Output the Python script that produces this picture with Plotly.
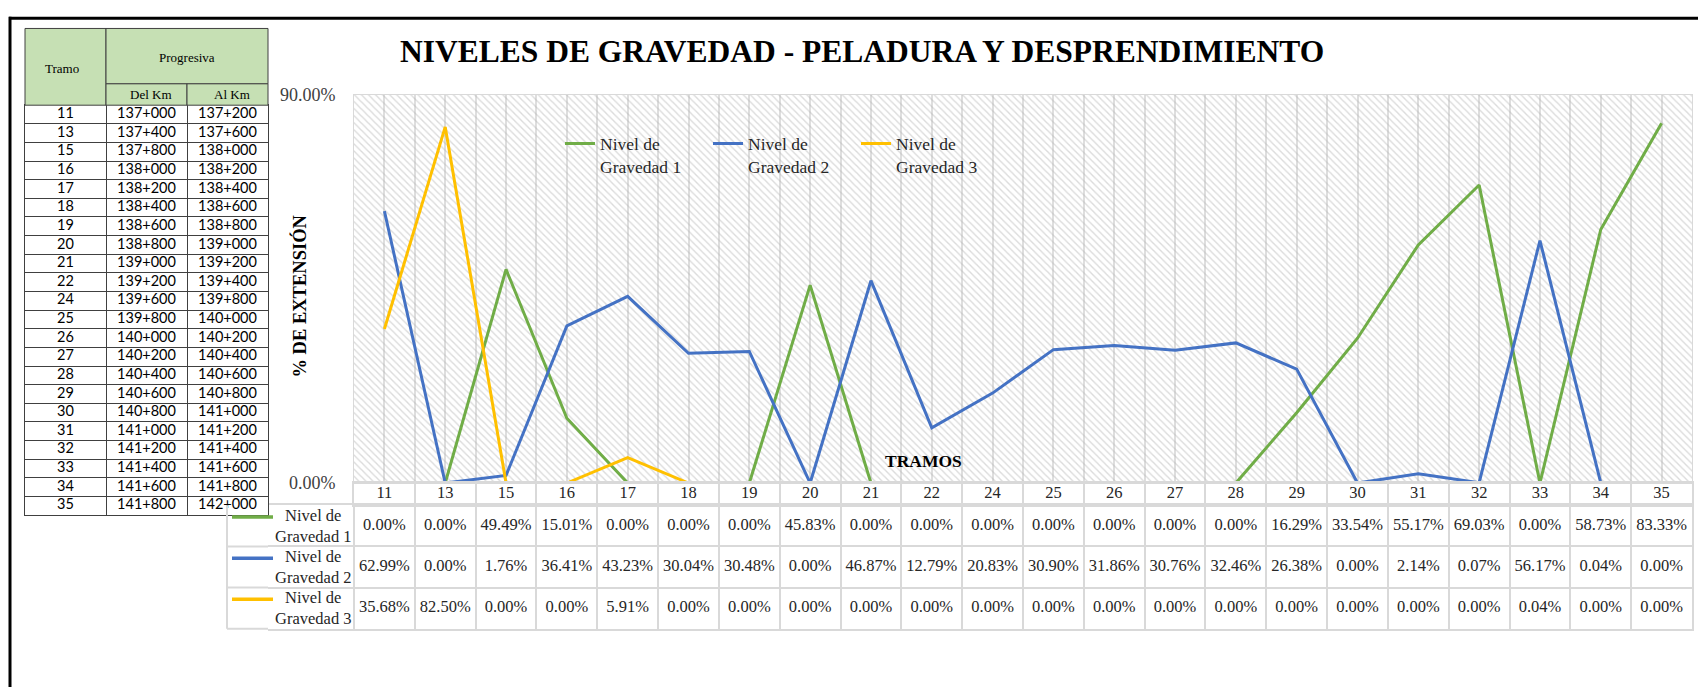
import plotly.graph_objects as go

W, H = 1698, 697

TITLE = "NIVELES DE GRAVEDAD - PELADURA Y DESPRENDIMIENTO"
Y_TITLE = "% DE EXTENSIÓN"
X_TITLE = "TRAMOS"

TRAMOS = ["11", "13", "15", "16", "17", "18", "19", "20", "21", "22", "24",
          "25", "26", "27", "28", "29", "30", "31", "32", "33", "34", "35"]
DEL_KM = ["137+000", "137+400", "137+800", "138+000", "138+200", "138+400",
          "138+600", "138+800", "139+000", "139+200", "139+600", "139+800",
          "140+000", "140+200", "140+400", "140+600", "140+800", "141+000",
          "141+200", "141+400", "141+600", "141+800"]
AL_KM = ["137+200", "137+600", "138+000", "138+200", "138+400", "138+600",
         "138+800", "139+000", "139+200", "139+400", "139+800", "140+000",
         "140+200", "140+400", "140+600", "140+800", "141+000", "141+200",
         "141+400", "141+600", "141+800", "142+000"]

NIVEL_1 = [0.00, 0.00, 49.49, 15.01, 0.00, 0.00, 0.00, 45.83, 0.00, 0.00, 0.00,
           0.00, 0.00, 0.00, 0.00, 16.29, 33.54, 55.17, 69.03, 0.00, 58.73, 83.33]
NIVEL_2 = [62.99, 0.00, 1.76, 36.41, 43.23, 30.04, 30.48, 0.00, 46.87, 12.79, 20.83,
           30.90, 31.86, 30.76, 32.46, 26.38, 0.00, 2.14, 0.07, 56.17, 0.04, 0.00]
NIVEL_3 = [35.68, 82.50, 0.00, 0.00, 5.91, 0.00, 0.00, 0.00, 0.00, 0.00, 0.00,
           0.00, 0.00, 0.00, 0.00, 0.00, 0.00, 0.00, 0.00, 0.04, 0.00, 0.00]

SERIES_NAMES = ["Nivel de<br>Gravedad 1", "Nivel de<br>Gravedad 2", "Nivel de<br>Gravedad 3"]
COLORS = ["#70AD47", "#4472C4", "#FFC000"]
Y_MAX = 90
Y_TICKS = [0, 90]

LEFT_COLS = ["Tramo", "Del Km", "Al Km"]
LEFT_HEAD_TOP = "Progresiva"

SERIF = "Liberation Serif"
TABLE_GRID = "#d9d9d9"
GREEN_HEAD = "#C6E0B4"
DARK = "#262626"


def fx(p):
    return p / W


def fy(p):
    return 1 - p / H


# layout in pixels
PLOT_L, PLOT_R, PLOT_T, PLOT_B = 354, 1692, 87, 487
HEAD_B = 510
BODY_B = 637
TBL_L = 227
LT_L, LT_R, LT_T, LT_MID, LT_HB, LT_B = 25, 268, 19, 76, 98, 520

n = len(TRAMOS)
idx = list(range(n))
col_w = (PLOT_R - PLOT_L) / n
bounds = [i - 0.5 for i in range(n + 1)]

fig = go.Figure()

# hatched chart background
fig.add_trace(go.Bar(
    x=idx, y=[Y_MAX] * n, width=1, hoverinfo="skip", showlegend=False,
    marker=dict(color="rgba(0,0,0,0)", line_width=0,
                pattern=dict(shape="\\", fgcolor="#b8b8b8", size=5, solidity=0.28,
                             fillmode="overlay")),
))

for name, vals, col in zip(SERIES_NAMES, [NIVEL_1, NIVEL_2, NIVEL_3], COLORS):
    fig.add_trace(go.Scatter(x=idx, y=vals, mode="lines", name=name,
                             line=dict(color=col, width=3)))

# data table: header row (tramos)
fig.add_trace(go.Scatter(x=idx, y=[0.5] * n, text=TRAMOS, mode="text", showlegend=False,
                         textfont=dict(family=SERIF, size=16.5, color=DARK),
                         xaxis="x2", yaxis="y2", hoverinfo="skip"))
# data table: values
for name, vals in zip(SERIES_NAMES, [NIVEL_1, NIVEL_2, NIVEL_3]):
    fig.add_trace(go.Scatter(x=idx, y=[name] * n, text=[f"{v:.2f}%" for v in vals],
                             mode="text", showlegend=False, hoverinfo="skip",
                             textfont=dict(family=SERIF, size=16.5, color=DARK),
                             xaxis="x3", yaxis="y3"))

# left table body
for col, vals in zip(LEFT_COLS, [TRAMOS, DEL_KM, AL_KM]):
    fig.add_trace(go.Scatter(x=[col] * n, y=TRAMOS, text=vals, mode="text",
                             showlegend=False, hoverinfo="skip",
                             textfont=dict(family="Lato", size=14.5, color="black"),
                             xaxis="x4", yaxis="y4"))

shapes = []
annotations = []


def note(text, x, y, size, color=DARK, family=SERIF, angle=0):
    annotations.append(dict(text=text, x=fx(x), y=fy(y), xref="paper", yref="paper",
                            xanchor="center", yanchor="middle", showarrow=False,
                            textangle=angle, font=dict(family=family, size=size, color=color)))


# frame
shapes.append(dict(type="line", xref="paper", yref="paper", x0=fx(10), x1=fx(10),
                   y0=fy(7), y1=0, line=dict(color="black", width=3)))
shapes.append(dict(type="line", xref="paper", yref="paper", x0=fx(9), x1=1,
                   y0=fy(8.5), y1=fy(8.5), line=dict(color="black", width=3)))

# left table header cells
lt_w = (LT_R - LT_L) / 3
head_cells = [
    (LT_L, LT_L + lt_w, LT_T, LT_HB),
    (LT_L + lt_w, LT_R, LT_T, LT_MID),
    (LT_L + lt_w, LT_L + 2 * lt_w, LT_MID, LT_HB),
    (LT_L + 2 * lt_w, LT_R, LT_MID, LT_HB),
]
for x0, x1, y0, y1 in head_cells:
    shapes.append(dict(type="rect", xref="paper", yref="paper", x0=fx(x0), x1=fx(x1),
                       y0=fy(y0), y1=fy(y1), fillcolor=GREEN_HEAD,
                       line=dict(color="#404040", width=1), layer="above"))
note(LEFT_COLS[0], LT_L + lt_w / 2 - 4, (LT_T + LT_HB) / 2 + 2, 13, "black")
note(LEFT_HEAD_TOP, LT_L + 2 * lt_w, (LT_T + LT_MID) / 2 + 1, 13, "black")
note(LEFT_COLS[1], LT_L + 1.5 * lt_w + 4, (LT_MID + LT_HB) / 2, 13, "black")
note(LEFT_COLS[2], LT_L + 2.5 * lt_w + 4, (LT_MID + LT_HB) / 2, 13, "black")

# data table first column: borders, keys and labels
row_h = (BODY_B - HEAD_B) / 3
shapes.append(dict(type="line", xref="paper", yref="paper", x0=fx(TBL_L), x1=fx(TBL_L),
                   y0=fy(HEAD_B), y1=fy(BODY_B), line=dict(color=TABLE_GRID, width=2)))
for k in range(1, 4):
    yy = HEAD_B + k * row_h
    shapes.append(dict(type="line", xref="paper", yref="paper", x0=fx(TBL_L), x1=fx(LT_R),
                       y0=fy(yy), y1=fy(yy), line=dict(color=TABLE_GRID, width=2)))
for k, (name, col) in enumerate(zip(SERIES_NAMES, COLORS)):
    yk = HEAD_B + k * row_h + 12
    shapes.append(dict(type="line", xref="paper", yref="paper", x0=fx(232), x1=fx(273),
                       y0=fy(yk), y1=fy(yk), line=dict(color=col, width=3.5)))
    note(name, 313, HEAD_B + (k + 0.5) * row_h, 16.5)

note(f"<b>{Y_TITLE}</b>", 300, 295, 18.5, "black", angle=-90)
note(f"<b>{X_TITLE}</b>", 923, 464, 17.5, "black")
note(f"<b>{TITLE}</b>", 862, 43, 31.5, "black")

grid_kw = dict(showticklabels=False, zeroline=False, ticks="")

fig.update_layout(
    width=W, height=H,
    margin=dict(l=0, r=0, t=0, b=0),
    paper_bgcolor="white", plot_bgcolor="white",
    bargap=0, hovermode=False,
    legend=dict(orientation="h", x=fx(560), y=fy(119), xanchor="left", yanchor="top",
                entrywidth=103, entrywidthmode="pixels", valign="top",
                bgcolor="rgba(0,0,0,0)",
                font=dict(family=SERIF, size=17.5, color="#262626")),
    xaxis=dict(domain=[fx(PLOT_L), fx(PLOT_R)], range=[-0.5, n - 0.5], tick0=-0.5,
               dtick=0.5, showgrid=True, gridcolor="#dedede", gridwidth=1.5,
               showline=True, mirror=True, linecolor=TABLE_GRID, **grid_kw),
    yaxis=dict(domain=[fy(PLOT_B), fy(PLOT_T)], range=[0, Y_MAX], tickvals=Y_TICKS,
               ticktext=[f"{v:.2f}%" for v in Y_TICKS], showgrid=False, zeroline=False,
               showline=True, mirror=True, linecolor=TABLE_GRID, ticklabelstandoff=14,
               tickfont=dict(family=SERIF, size=18, color="#404040")),
    xaxis2=dict(domain=[fx(PLOT_L), fx(PLOT_R)], range=[-0.5, n - 0.5], tickvals=bounds,
                showgrid=True, gridcolor=TABLE_GRID, gridwidth=2, showline=True,
                mirror=True, linecolor=TABLE_GRID, linewidth=2, anchor="y2", **grid_kw),
    yaxis2=dict(domain=[fy(HEAD_B), fy(PLOT_B)], range=[0, 1], showgrid=False,
                showline=True, mirror=True, linecolor=TABLE_GRID, linewidth=2,
                anchor="x2", **grid_kw),
    xaxis3=dict(domain=[fx(LT_R), fx(PLOT_R)],
                range=[-0.5 - (PLOT_L - LT_R) / col_w, n - 0.5], tickvals=bounds,
                showgrid=True, gridcolor=TABLE_GRID, gridwidth=2, showline=True,
                mirror=True, linecolor=TABLE_GRID, linewidth=2, anchor="y3", **grid_kw),
    yaxis3=dict(domain=[fy(BODY_B), fy(HEAD_B)], type="category",
                categoryarray=SERIES_NAMES, range=[len(SERIES_NAMES) - 0.5, -0.5],
                tickson="boundaries", showgrid=True, gridcolor=TABLE_GRID, gridwidth=2,
                side="right", showline=True, linecolor=TABLE_GRID, linewidth=2,
                anchor="x3", **grid_kw),
    xaxis4=dict(domain=[fx(LT_L), fx(LT_R)], type="category", categoryarray=LEFT_COLS,
                range=[-0.5, len(LEFT_COLS) - 0.5],
                tickson="boundaries", showgrid=True, gridcolor="#404040", gridwidth=1,
                showline=True, mirror=True, linecolor="#404040", linewidth=1,
                anchor="y4", **grid_kw),
    yaxis4=dict(domain=[fy(LT_B), fy(LT_HB)], type="category", categoryarray=TRAMOS,
                range=[n - 0.5, -0.5], tickson="boundaries", showgrid=True,
                gridcolor="#404040", gridwidth=1, showline=True, mirror=True,
                linecolor="#404040", linewidth=1, anchor="x4", **grid_kw),
    shapes=shapes,
    annotations=annotations,
)

fig.write_html("out.html", config={"displayModeBar": False},
               post_script="document.body.style.margin='0';")
